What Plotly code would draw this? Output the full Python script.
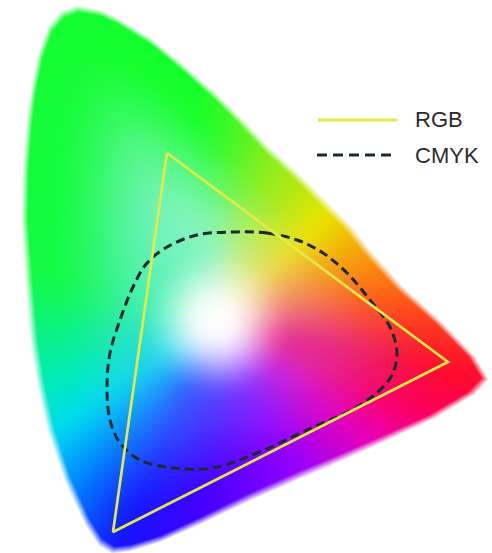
import base64
import struct
import zlib

import numpy as np
import plotly.graph_objects as go

# ---------------- data (chart units = picture pixels) ----------------
BOUNDARY_X = [77, 100, 117, 150, 183, 217, 247, 267, 300, 325, 350, 367, 400, 440, 473, 486,
              473, 433, 383, 333, 300, 250, 200, 160, 130, 113, 100, 87, 67, 50, 40, 33,
              28, 24, 25, 29, 33, 40, 50, 62]
BOUNDARY_Y = [8, 12, 20, 40, 67, 97, 127, 148, 178, 203, 228, 250, 287, 323, 357, 379,
              393, 417, 440, 462, 476, 498, 522, 540, 549, 551, 543, 523, 480, 430, 385, 340,
              280, 220, 170, 120, 90, 55, 28, 14]

WHITE_POINT_X = 217
WHITE_POINT_Y = 323

HUE_ANGLES = [-12, 12, 44, 72, 95, 165, 200, 214, 228, 246, 266, 299, 324, 336, 348]
OUTER_COLORS = [(255, 10, 45), (255, 110, 20), (235, 228, 0), (140, 238, 30), (20, 255, 40),
                (20, 250, 70), (0, 235, 185), (0, 220, 240), (0, 140, 255), (20, 20, 255),
                (70, 0, 255), (150, 0, 255), (235, 0, 180), (250, 0, 100), (255, 10, 45)]
INNER_COLORS = [(228, 45, 145), (240, 125, 120), (235, 220, 100), (200, 238, 140),
                (140, 245, 190), (70, 240, 180), (40, 220, 220), (30, 210, 240),
                (30, 160, 250), (50, 90, 255), (80, 70, 255), (140, 50, 255),
                (200, 40, 220), (225, 45, 165), (228, 45, 145)]

RGB_X = [167, 448, 113, 167]
RGB_Y = [153, 362, 532, 153]

CMYK_X = [233, 267, 297, 323, 347, 370, 390, 397, 393, 383, 357, 307, 257, 213, 173, 140,
          120, 110, 107, 110, 120, 133, 147, 167, 197, 233]
CMYK_Y = [232, 233, 240, 253, 273, 300, 327, 353, 373, 387, 407, 430, 453, 468, 468, 460,
          443, 420, 387, 353, 320, 287, 263, 247, 235, 232]

LEGEND_LABELS = ["RGB", "CMYK"]

W, H = 492, 553

# ---------------- colour field of the gamut ----------------
bx = np.array(BOUNDARY_X, float)
by = np.array(BOUNDARY_Y, float)
ex = np.roll(bx, -1) - bx
ey = np.roll(by, -1) - by
phis = np.linspace(-np.pi, np.pi, 2881)
ux = np.cos(phis)[:, None]
uy = -np.sin(phis)[:, None]
rx = (bx - WHITE_POINT_X)[None, :]
ry = (by - WHITE_POINT_Y)[None, :]
den = ux * ey[None, :] - uy * ex[None, :]
den = np.where(np.abs(den) < 1e-12, 1e-12, den)
t = (rx * ey[None, :] - ry * ex[None, :]) / den
v = (rx * uy - ry * ux) / den
valid = (v >= 0) & (v <= 1) & (t > 0)
dbound = np.where(valid, t, 0).max(axis=1)

yy, xx = np.mgrid[0:H, 0:W].astype(float) + 0.5
dx = xx - WHITE_POINT_X
dy = -(yy - WHITE_POINT_Y)
d = np.hypot(dx, dy)
phi = np.arctan2(dy, dx)
db = np.interp(phi, phis, dbound)
s = d / np.maximum(db, 1e-6)

ang = np.degrees(phi) % 360
ha = np.array(HUE_ANGLES, float)
ha_ext = np.concatenate([ha - 360, ha, ha + 360])


def ring(colors):
    c = np.array(colors, float)
    c3 = np.concatenate([c, c, c])
    return np.stack([np.interp(ang, ha_ext, c3[:, k]) for k in range(3)], axis=-1)


def smooth(x, a, b):
    q = np.clip((x - a) / (b - a), 0, 1)
    return q * q * (3 - 2 * q)


outer = ring(OUTER_COLORS)
inner = ring(INNER_COLORS)
g = smooth(s, 0.3, 0.9)[..., None]
hue = inner + (outer - inner) * g
f = np.maximum(smooth(d, 10, 78), smooth(s, 0.05, 0.48))[..., None]
col = 255 * (1 - f) + hue * f


def blur(a, sigma):
    r = int(3 * sigma)
    k = np.exp(-0.5 * (np.arange(-r, r + 1) / sigma) ** 2)
    k /= k.sum()
    out = np.zeros_like(a)
    p = np.pad(a, ((r, r), (0, 0), (0, 0)), mode="edge")
    for i, w in enumerate(k):
        out += w * p[i:i + a.shape[0]]
    a = out
    out = np.zeros_like(a)
    p = np.pad(a, ((0, 0), (r, r), (0, 0)), mode="edge")
    for i, w in enumerate(k):
        out += w * p[:, i:i + a.shape[1]]
    return out


col = blur(col, 8.0)
alpha = np.clip((db - d + 3) / 8.0, 0, 1)[..., None]
img = 255 * (1 - alpha) + col * alpha
img = np.clip(img, 0, 255).astype(np.uint8)


def png_uri(arr):
    h, w, _ = arr.shape
    raw = b"".join(b"\x00" + arr[i].tobytes() for i in range(h))

    def chunk(tag, data):
        return (struct.pack(">I", len(data)) + tag + data +
                struct.pack(">I", zlib.crc32(tag + data) & 0xffffffff))

    png = (b"\x89PNG\r\n\x1a\n" +
           chunk(b"IHDR", struct.pack(">IIBBBBB", w, h, 8, 2, 0, 0, 0)) +
           chunk(b"IDAT", zlib.compress(raw, 9)) +
           chunk(b"IEND", b""))
    return "data:image/png;base64," + base64.b64encode(png).decode()


fig = go.Figure()
fig.add_trace(go.Image(source=png_uri(img), x0=0.5, dx=1, y0=0.5, dy=1, hoverinfo="skip"))

fig.add_trace(go.Scatter(x=CMYK_X, y=CMYK_Y, mode="lines", line_shape="spline",
                         line=dict(color="#1b2a2c", width=3, dash="9px,5px"),
                         name=LEGEND_LABELS[1], hoverinfo="skip"))
fig.add_trace(go.Scatter(x=RGB_X, y=RGB_Y, mode="lines",
                         line=dict(color="#e3ea48", width=2.7),
                         name=LEGEND_LABELS[0], hoverinfo="skip"))

# hand-drawn legend
fig.add_shape(type="line", xref="x", yref="y", x0=318, x1=397, y0=120, y1=120,
              line=dict(color="#e3ea48", width=3))
fig.add_shape(type="line", xref="x", yref="y", x0=317, x1=397, y0=155, y1=155,
              line=dict(color="#1b2a2c", width=3, dash="10px,6px"))
for lab, ypos in zip(LEGEND_LABELS, [119, 155]):
    fig.add_annotation(x=413, y=ypos, xref="x", yref="y", text=lab, showarrow=False,
                       xanchor="left", yanchor="middle",
                       font=dict(family="Liberation Sans, Arial, sans-serif", size=22,
                                 color="#2b2b2b"))

fig.update_layout(
    width=W, height=H,
    margin=dict(l=0, r=0, t=0, b=0, pad=0),
    paper_bgcolor="white", plot_bgcolor="white",
    showlegend=False,
    xaxis=dict(range=[0, W], visible=False, showgrid=False, zeroline=False),
    yaxis=dict(range=[H, 0], visible=False, showgrid=False, zeroline=False),
)

fig.write_html("out.html",
               config={"displayModeBar": False, "staticPlot": True},
               post_script="document.body.style.margin='0';"
                           "document.body.style.padding='0';"
                           "document.body.style.overflow='hidden';")
